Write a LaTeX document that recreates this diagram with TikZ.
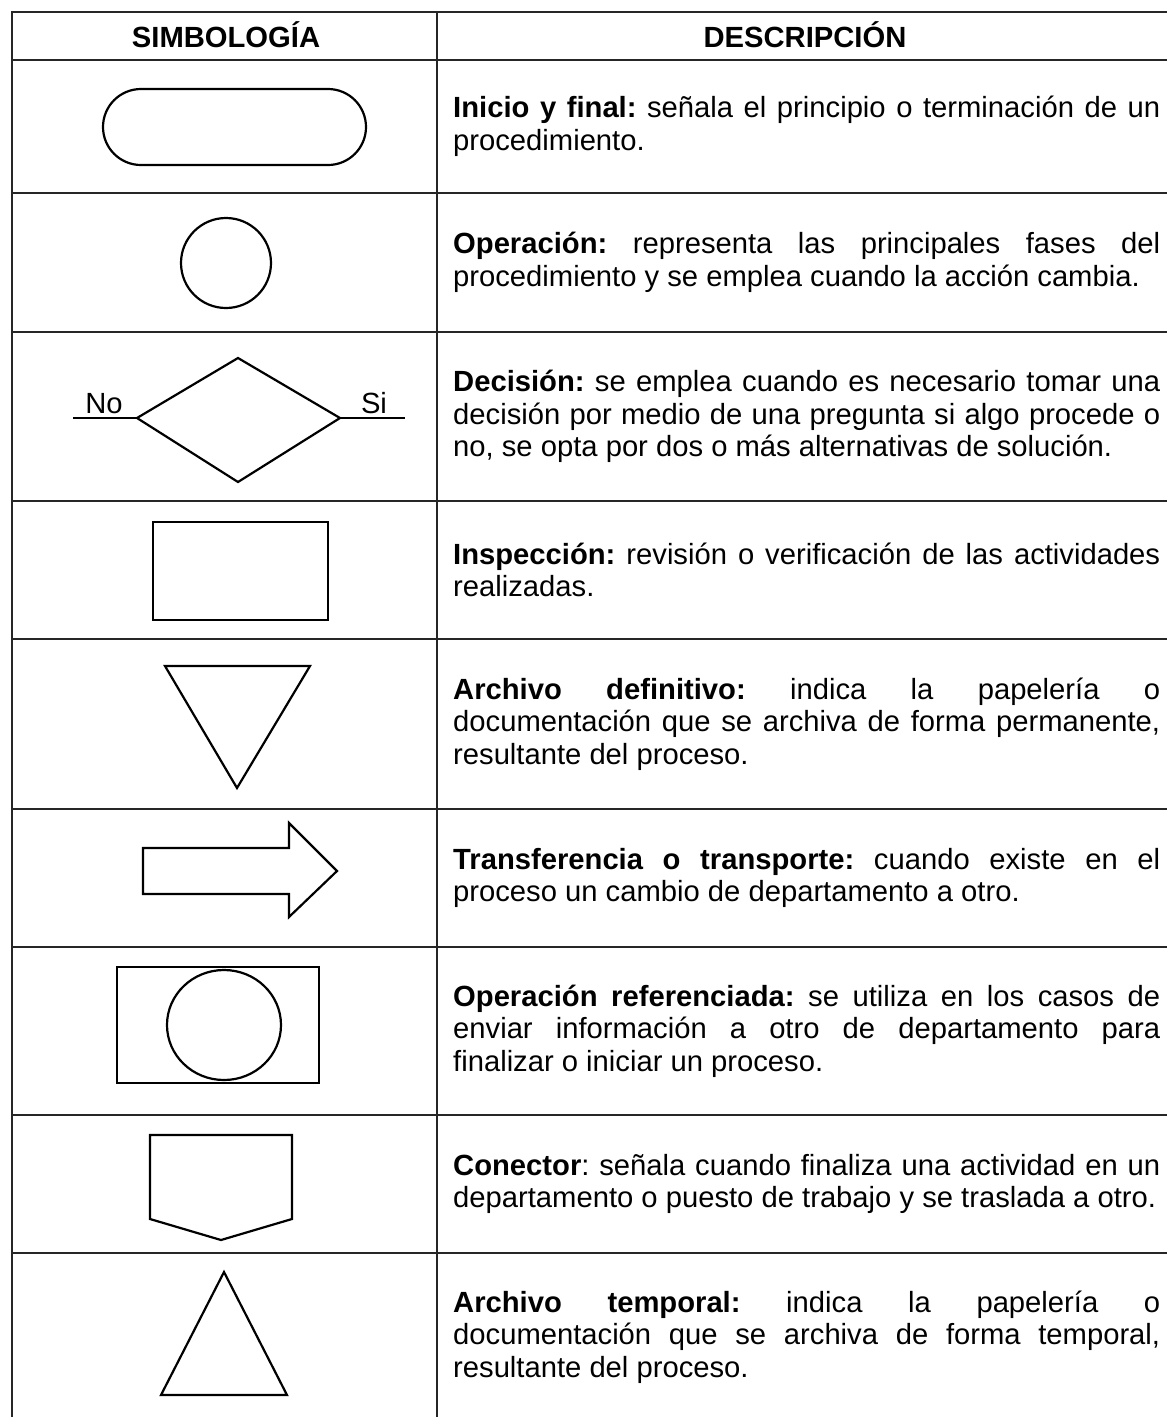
\documentclass[tikz,border=0pt]{standalone}
\usepackage{fontspec}
\setmainfont{Liberation Sans}
\frenchspacing
\begin{document}
\begin{tikzpicture}[x=1pt,y=-1pt,
  tbl/.style={line width=1.6pt, black!85},
  shp/.style={line width=2.2pt, line join=miter},
  lbl/.style={inner sep=0pt, anchor=base, font=\fontsize{29.2}{32.5}\selectfont},
  hdr/.style={inner sep=0pt, anchor=base, font=\fontsize{29.2}{32.5}\selectfont\bfseries},
  desc/.style={anchor=west, inner sep=0pt, align=left, font=\fontsize{29.2}{32.5}\selectfont\frenchspacing}]
\newcommand{\jl}[1]{\makebox[707pt][s]{#1}}
\useasboundingbox[fill=white] (0,0) rectangle (1167,1417);
% table grid
\draw[tbl] (1167,12) -- (12,12) -- (12,1417);
\draw[tbl] (437,12) -- (437,1417);
\foreach \yy in {60,193,332,501,639,809,947,1115,1253} \draw[tbl] (12,\yy) -- (1167,\yy);
% headers
\node[hdr] (h1) at (226,47) {SIMBOLOGÍA};
\node[hdr] (h2) at (805,47) {DESCRIPCIÓN};
% symbols
\draw[shp, rounded corners=38pt] (103,89) rectangle (366,165);
\draw[shp] (226,263) circle[radius=45];
\draw[shp] (137,418) -- (238,358) -- (340,418) -- (238,482) -- cycle;
\draw[shp] (73,418) -- (137,418);
\draw[shp] (340,418) -- (405,418);
\node[lbl] (no) at (104,413) {No};
\node[lbl] (si) at (374,413) {Si};
\draw[shp] (153,522) rectangle (328,620);
\draw[shp] (165,666) -- (310,666) -- (237,788) -- cycle;
\draw[shp] (143,848) -- (289,848) -- (289,823) -- (337,871) -- (289,917) -- (289,894) -- (143,894) -- cycle;
\draw[shp] (117,967) rectangle (319,1083);
\draw[shp] (224,1025) ellipse[x radius=57, y radius=55];
\draw[shp] (150,1135) -- (292,1135) -- (292,1219) -- (221,1240) -- (150,1219) -- cycle;
\draw[shp] (224,1272) -- (287,1395) -- (161,1395) -- cycle;
% descriptions
\node[desc] (d1) at (453,126.5) {\jl{\textbf{Inicio y final:} señala el principio o terminación de un}\\procedimiento.};
\node[desc] (d2) at (453,262.5) {\jl{\textbf{Operación:} representa las principales fases del}\\procedimiento y se emplea cuando la acción cambia.};
\node[desc] (d3) at (453,416.5) {\jl{\textbf{Decisión:} se emplea cuando es necesario tomar una}\\\jl{decisión por medio de una pregunta si algo procede o}\\no, se opta por dos o más alternativas de solución.};
\node[desc] (d4) at (453,570) {\jl{\textbf{Inspección:} revisión o verificación de las actividades}\\realizadas.};
\node[desc] (d5) at (453,724) {\jl{\textbf{Archivo definitivo:} indica la papelería o}\\\jl{documentación que se archiva de forma permanente,}\\resultante del proceso.};
\node[desc] (d6) at (453,878) {\jl{\textbf{Transferencia o transporte:} cuando existe en el}\\proceso un cambio de departamento a otro.};
\node[desc] (d7) at (453,1031) {\jl{\textbf{Operación referenciada:} se utiliza en los casos de}\\\jl{enviar información a otro de departamento para}\\finalizar o iniciar un proceso.};
\node[desc] (d8) at (453,1184) {\jl{\textbf{Conector}: señala cuando finaliza una actividad en un}\\departamento o puesto de trabajo y se traslada a otro.};
\node[desc] (d9) at (453,1337) {\jl{\textbf{Archivo temporal:} indica la papelería o}\\\jl{documentación que se archiva de forma temporal,}\\resultante del proceso.};
\end{tikzpicture}
\end{document}
